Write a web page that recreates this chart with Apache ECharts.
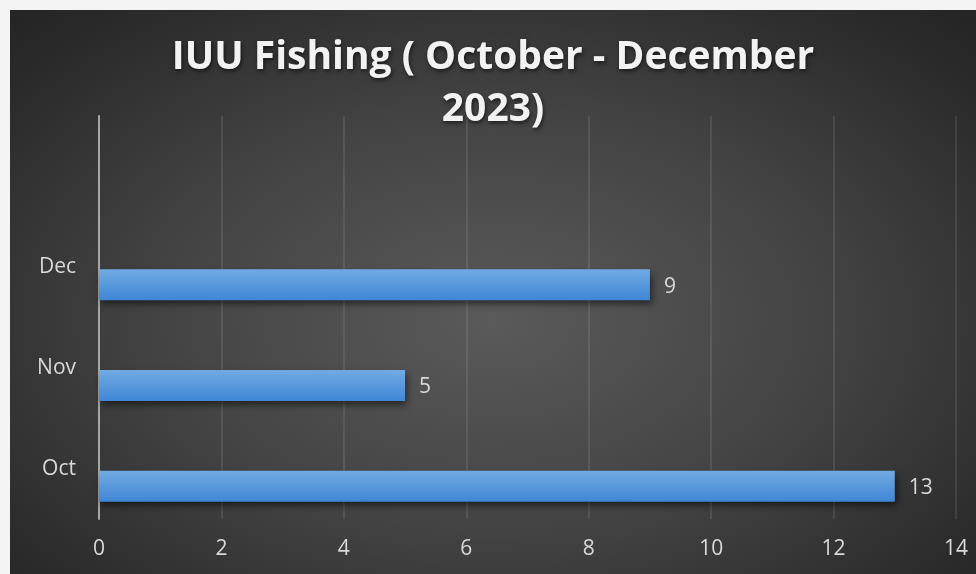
<!DOCTYPE html>
<html>
<head>
<meta charset="utf-8">
<script src="https://cdn.jsdelivr.net/npm/echarts@6/dist/echarts.min.js"></script>
<style>
  html, body { margin: 0; padding: 0; background: #f4f4f4; }
  #wrap { position: absolute; left: 0; top: 0; width: 976px; height: 574px; background: #f4f4f4; }
  #main {
    position: absolute; left: 10px; top: 10px; width: 966px; height: 564px;
    background: radial-gradient(ellipse 70% 75% at 50% 55%, #5a5a5a 0%, #434343 50%, #2b2b2b 88%, #252525 100%);
  }
</style>
</head>
<body>
<div id="wrap"><div id="main"></div></div>
<script>
var titleText = 'IUU Fishing ( October - December\n2023)';
// categories bottom -> top, top slot left empty like the original
var months = ['Oct', 'Nov', 'Dec', ''];
var counts = [13, 5, 9, null];
var xTicks = [0, 2, 4, 6, 8, 10, 12, 14];

var chart = echarts.init(document.getElementById('main'));

var option = {
    backgroundColor: 'transparent',
    animation: false,
    title: {
        text: titleText,
        left: 'center',
        top: 17,
        textStyle: {
            color: '#f2f2f2',
            fontFamily: 'Open Sans',
            fontWeight: 'bold',
            fontSize: 39,
            lineHeight: 52,
            textShadowColor: 'rgba(0,0,0,0.6)',
            textShadowBlur: 4,
            textShadowOffsetX: 1,
            textShadowOffsetY: 2
        }
    },
    grid: {
        left: 89,
        right: 20,
        top: 106,
        bottom: 55,
        containLabel: false
    },
    xAxis: {
        type: 'value',
        min: xTicks[0],
        max: xTicks[xTicks.length - 1],
        interval: 2,
        axisLine: { show: false },
        axisTick: { show: false },
        splitLine: { show: true, lineStyle: { color: 'rgba(255,255,255,0.13)', width: 1.5 } },
        axisLabel: {
            color: '#d9d9d9',
            fontFamily: 'Open Sans',
            fontSize: 21,
            margin: 20
        }
    },
    yAxis: {
        type: 'category',
        data: months,
        axisLine: { show: true, lineStyle: { color: '#a6a6a6', width: 2 } },
        axisTick: { show: false },
        splitLine: { show: false },
        axisLabel: {
            color: '#d9d9d9',
            fontFamily: 'Open Sans',
            fontSize: 21,
            margin: 23
        }
    },
    series: [{
        name: 'spacer',
        type: 'bar',
        data: months.map(function () { return null; }),
        barWidth: 31,
        barGap: '13%',
        silent: true
    }, {
        name: 'IUU Fishing',
        type: 'bar',
        data: counts,
        barWidth: 31,
        barGap: '13%',
        itemStyle: {
            color: new echarts.graphic.LinearGradient(0, 0, 0, 1, [
                { offset: 0, color: '#72aae3' },
                { offset: 1, color: '#3f87d5' }
            ]),
            shadowColor: 'rgba(0,0,0,0.55)',
            shadowBlur: 7,
            shadowOffsetX: 2,
            shadowOffsetY: 4
        },
        label: {
            show: true,
            position: 'right',
            distance: 14,
            color: '#d9d9d9',
            fontFamily: 'Open Sans',
            fontSize: 21,
            offset: [0, 2]
        }
    }]
};

chart.setOption(option);
</script>
</body>
</html>
